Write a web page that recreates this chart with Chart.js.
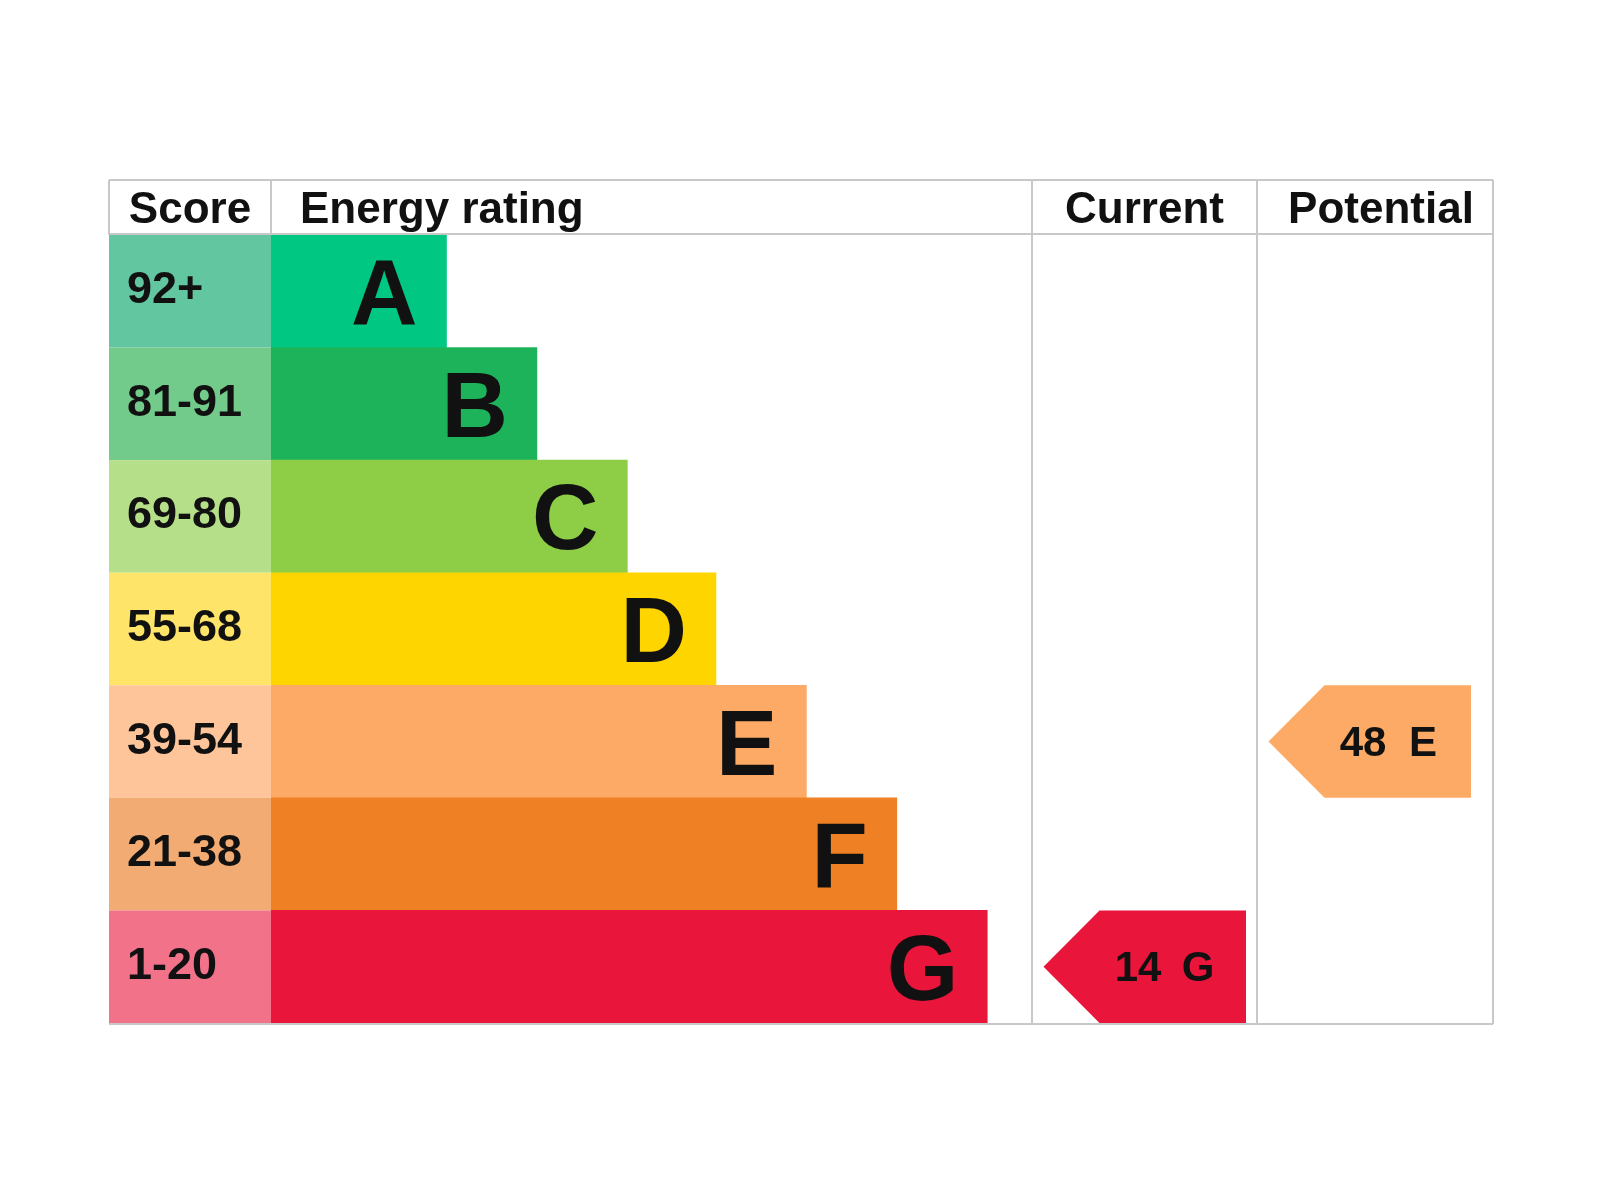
<!DOCTYPE html>
<html>
<head>
<meta charset="utf-8">
<script src="https://cdn.jsdelivr.net/npm/chart.js@4"></script>
<style>
  html, body { margin: 0; padding: 0; background: #fff; }
  canvas { display: block; }
</style>
</head>
<body>
<canvas id="epc" width="1600" height="1200"></canvas>
<script>
// bands, score ranges and bar lengths (bar length in band steps)
const bands = ['A', 'B', 'C', 'D', 'E', 'F', 'G'];
const scoreRanges = ['92+', '81-91', '69-80', '55-68', '39-54', '21-38', '1-20'];
const barLengths = [1.96, 2.97, 3.98, 4.97, 5.98, 6.99, 8.0];
const barColors = ['#00c781', '#1cb35a', '#8dce46', '#ffd500', '#fcaa65', '#ef8023', '#e9153b'];
const scoreColors = ['#62c6a0', '#72cb8a', '#b6df89', '#fee469', '#fec59a', '#f2ab72', '#f2728a'];
const headers = ['Score', 'Energy rating', 'Current', 'Potential'];
const currentScore = 14;
const currentBand = 'G';
const potentialScore = 48;
const potentialBand = 'E';

const FONT = '"Liberation Sans", Arial, sans-serif';
const TEXT = '#111111';
const LINE = '#c8c8c8';

// table frame (pixels)
const tableLeft = 109, scoreRight = 271, currentLeft = 1032, potentialLeft = 1257, tableRight = 1493;
const tableTop = 180, headerBottom = 235, tableBottom = 1024;

function rowBounds(chart, i) {
  const y = chart.scales.y;
  const half = (chart.chartArea.bottom - chart.chartArea.top) / bands.length / 2;
  const c = y.getPixelForValue(i);
  return {top: c - half, bottom: c + half, mid: c};
}

function drawArrow(ctx, chart, colLeft, band, score) {
  const i = bands.indexOf(band);
  const r = rowBounds(chart, i);
  const tip = colLeft + 11.5, body = tip + 56, right = colLeft + 214;
  ctx.fillStyle = barColors[i];
  ctx.beginPath();
  ctx.moveTo(tip, r.mid);
  ctx.lineTo(body, r.top);
  ctx.lineTo(right, r.top);
  ctx.lineTo(right, r.bottom);
  ctx.lineTo(body, r.bottom);
  ctx.closePath();
  ctx.fill();
  ctx.fillStyle = TEXT;
  ctx.font = 'bold 42px ' + FONT;
  ctx.textAlign = 'center';
  ctx.textBaseline = 'alphabetic';
  ctx.fillText(String(score), right - 108, r.mid + 14);
  ctx.fillText(band, right - 48, r.mid + 14);
}

const epcPlugin = {
  id: 'epc',
  beforeDatasetsDraw(chart) {
    const ctx = chart.ctx;
    ctx.save();
    // score column cells
    bands.forEach((b, i) => {
      const r = rowBounds(chart, i);
      ctx.fillStyle = scoreColors[i];
      ctx.fillRect(tableLeft, r.top, scoreRight - tableLeft, r.bottom - r.top);
      ctx.fillStyle = TEXT;
      ctx.font = 'bold 45px ' + FONT;
      ctx.textAlign = 'left';
      ctx.textBaseline = 'alphabetic';
      ctx.fillText(scoreRanges[i], 127, r.mid + 12);
    });
    // grid lines
    ctx.strokeStyle = LINE;
    ctx.lineWidth = 2;
    ctx.beginPath();
    ctx.moveTo(tableLeft, tableTop); ctx.lineTo(tableRight, tableTop);
    ctx.moveTo(tableLeft, headerBottom - 1); ctx.lineTo(tableRight, headerBottom - 1);
    ctx.moveTo(tableLeft, tableBottom); ctx.lineTo(tableRight, tableBottom);
    ctx.moveTo(tableLeft, tableTop); ctx.lineTo(tableLeft, headerBottom);
    ctx.moveTo(scoreRight, tableTop); ctx.lineTo(scoreRight, headerBottom);
    ctx.moveTo(currentLeft, tableTop); ctx.lineTo(currentLeft, tableBottom);
    ctx.moveTo(potentialLeft, tableTop); ctx.lineTo(potentialLeft, tableBottom);
    ctx.moveTo(tableRight, tableTop); ctx.lineTo(tableRight, tableBottom);
    ctx.stroke();
    // headers
    ctx.fillStyle = TEXT;
    ctx.font = 'bold 44px ' + FONT;
    ctx.textBaseline = 'alphabetic';
    ctx.textAlign = 'center';
    ctx.fillText(headers[0], (tableLeft + scoreRight) / 2, 223);
    ctx.textAlign = 'left';
    ctx.fillText(headers[1], 300, 223);
    ctx.textAlign = 'center';
    ctx.fillText(headers[2], (currentLeft + potentialLeft) / 2, 223);
    ctx.fillText(headers[3], 1381, 223);
    ctx.restore();
  },
  afterDatasetsDraw(chart) {
    const ctx = chart.ctx;
    const x = chart.scales.x;
    ctx.save();
    // band letters at the end of each bar
    ctx.fillStyle = TEXT;
    ctx.font = 'bold 92px ' + FONT;
    ctx.textAlign = 'right';
    ctx.textBaseline = 'alphabetic';
    bands.forEach((b, i) => {
      const r = rowBounds(chart, i);
      ctx.fillText(b, x.getPixelForValue(barLengths[i]) - 29, r.mid + 33);
    });
    drawArrow(ctx, chart, currentLeft, currentBand, currentScore);
    drawArrow(ctx, chart, potentialLeft, potentialBand, potentialScore);
    ctx.restore();
  }
};

new Chart(document.getElementById('epc'), {
  type: 'bar',
  data: {
    labels: bands,
    datasets: [{
      data: barLengths,
      backgroundColor: barColors,
      borderWidth: 0,
      barPercentage: 1,
      categoryPercentage: 1
    }]
  },
  options: {
    indexAxis: 'y',
    responsive: false,
    animation: false,
    devicePixelRatio: 1,
    layout: {padding: {left: scoreRight, right: 1600 - currentLeft, top: headerBottom, bottom: 1200 - 1023}},
    scales: {
      x: {display: false, min: 0, max: 8.5},
      y: {display: false}
    },
    plugins: {
      legend: {display: false},
      tooltip: {enabled: false}
    }
  },
  plugins: [epcPlugin]
});
</script>
</body>
</html>
